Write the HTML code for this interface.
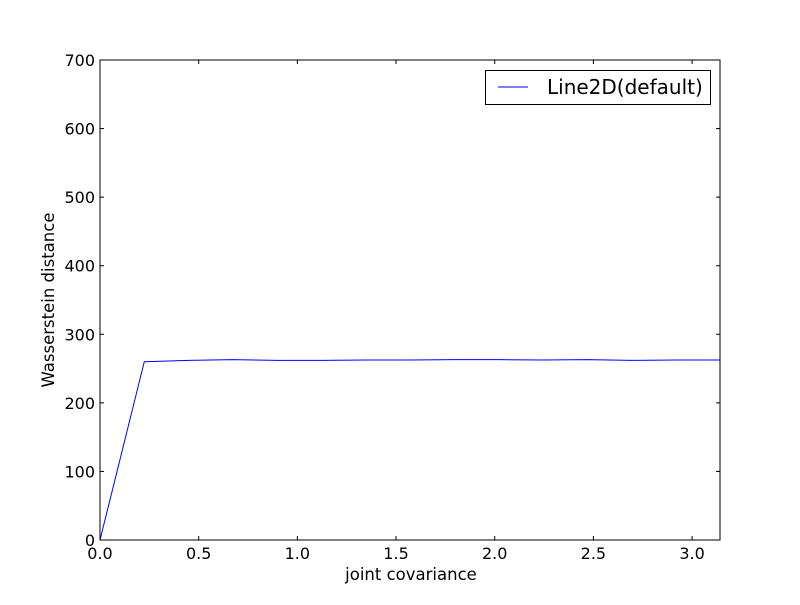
<!DOCTYPE html>
<html><head><meta charset="utf-8"><style>
body{margin:0;background:#fff;}
svg text{font-family:"DejaVu Sans","Liberation Sans",sans-serif;}
</style></head><body>
<svg id="chart" width="800" height="600" xmlns="http://www.w3.org/2000/svg">
<rect width="800" height="600" fill="#fff"/>
</svg>
<script>
const xValues=[0,0.2244,0.4488,0.6732,0.8976,1.1220,1.3464,1.5708,1.7952,2.0196,2.2440,2.4684,2.6928,2.9172,3.1416];
const yValues=[0,260,262,263,262,262,262.5,262.5,263,263,262.5,263,262,262.5,262.5];
const xTicks=[0,0.5,1.0,1.5,2.0,2.5,3.0];
const xTickLabels=["0.0","0.5","1.0","1.5","2.0","2.5","3.0"];
const yTicks=[0,100,200,300,400,500,600,700];
const yTickLabels=["0","100","200","300","400","500","600","700"];
const L=100,R=720,T=60,B=540,XMAX=Math.PI,YMAX=700;
const sx=v=>L+(v/XMAX)*(R-L);
const sy=v=>B-(v/YMAX)*(B-T);
const svg=document.getElementById('chart');
const NS='http://www.w3.org/2000/svg';
function mk(tag,attrs){const e=document.createElementNS(NS,tag);for(const k in attrs)e.setAttribute(k,attrs[k]);svg.appendChild(e);return e;}
const pts=xValues.map((x,i)=>sx(x)+','+sy(yValues[i])).join(' ');
const line=mk('polyline',{points:pts,fill:'none',stroke:'#0000ff','stroke-width':1});


const frame=mk('rect',{x:L,y:T,width:R-L,height:B-T,fill:'none',stroke:'#000','stroke-width':1});


xTicks.forEach((t,i)=>{
  const x=sx(t);
  mk('line',{x1:x,y1:B,x2:x,y2:B-4,stroke:'#000'});
  mk('line',{x1:x,y1:T,x2:x,y2:T+4,stroke:'#000'});
  const tx=mk('text',{x:x,y:B+19,'font-size':16,'text-anchor':'middle'});
  tx.textContent=xTickLabels[i];
  
  
});
yTicks.forEach((t,i)=>{
  const y=sy(t);
  mk('line',{x1:L,y1:y,x2:L+4,y2:y,stroke:'#000'});
  mk('line',{x1:R,y1:y,x2:R-4,y2:y,stroke:'#000'});
  const tx=mk('text',{x:L-5,y:y+6,'font-size':16,'text-anchor':'end'});
  tx.textContent=yTickLabels[i];
  
  
});
const xt=mk('text',{x:411,y:580,'font-size':16.5,'text-anchor':'middle'});
xt.textContent='joint covariance';


const yt=mk('text',{x:54,y:300,'font-size':16.5,'text-anchor':'middle',transform:'rotate(-90 54 300)'});
yt.textContent='Wasserstein distance';


const lg=mk('rect',{x:485.5,y:70.5,width:225,height:34,fill:'#fff',stroke:'#000'});


mk('line',{x1:498,y1:87,x2:528,y2:87,stroke:'#0000ff'});
const lt=mk('text',{x:547,y:94,'font-size':20});
lt.textContent='Line2D(default)';


</script>
</body></html>
